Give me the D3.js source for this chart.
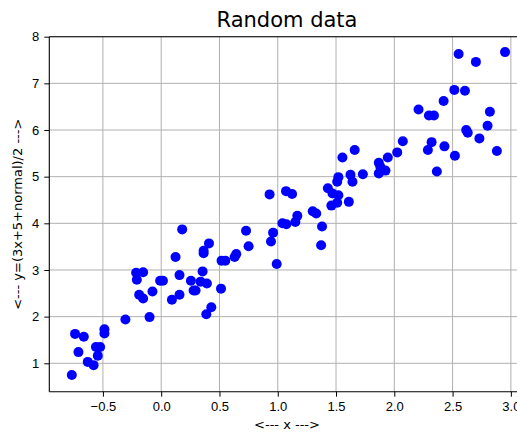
<!DOCTYPE html>
<html>
<head>
<meta charset="utf-8">
<script src="https://cdn.jsdelivr.net/npm/d3@7"></script>
<style>
  body { margin: 0; background: #fff; }
  svg { display: block; font-family: "DejaVu Sans", sans-serif; }
  .tick text { font-size: 13px; fill: #000; }
  .grid line { stroke: #b0b0b0; stroke-width: 1; }
</style>
</head>
<body>
<div id="chart"></div>
<script>
const WIDTH = 517;
const HEIGHT = 432;

// scatter values
const xValues = [
  -0.767, -0.739, -0.664, -0.71, -0.63, -0.58, -0.56, -0.524, -0.544, -0.487,
  -0.487, -0.307, -0.215, -0.155, -0.209, -0.189, -0.155, -0.075, -0.10, -0.009,
  0.015, 0.092, 0.157, 0.157, 0.123, 0.18, 0.255, 0.278, 0.295, 0.355,
  0.338, 0.392, 0.364, 0.364, 0.41, 0.387, 0.43, 0.513, 0.518, 0.55,
  0.63, 0.644, 0.728, 0.75, 0.942, 0.96, 0.991, 1.04, 1.074, 1.151,
  1.168, 1.30, 1.33, 1.38, 1.372, 1.46, 1.51, 1.61, 0.93, 1.071,
  1.123, 1.43, 1.47, 1.52, 1.51, 1.52, 1.555, 1.66, 1.624, 1.641,
  1.73, 1.867, 1.88, 1.924, 1.867, 1.944, 2.025, 2.073, 2.208, 2.297,
  2.34, 2.423, 2.32, 2.288, 2.365, 2.43, 2.52, 2.515, 2.606, 2.552,
  2.70, 2.95, 2.617, 2.63, 2.73, 2.80, 2.82, 2.88
];
const yValues = [
  0.75, 1.63, 1.57, 1.24, 1.03, 0.96, 1.35, 1.35, 1.16, 1.73,
  1.64, 1.94, 2.94, 2.95, 2.79, 2.47, 2.39, 2.54, 1.99, 2.77,
  2.77, 2.36, 2.47, 2.89, 3.28, 3.87, 2.77, 2.56, 2.56, 2.97,
  2.75, 2.71, 3.41, 3.36, 3.57, 2.05, 2.2, 2.6, 3.2, 3.2,
  3.28, 3.34, 3.84, 3.51, 3.61, 3.80, 3.13, 4.0, 3.98, 4.03,
  4.16, 4.26, 4.21, 3.93, 3.53, 4.38, 4.44, 4.46, 4.62, 4.69,
  4.63, 4.75, 4.64, 4.99, 4.89, 4.60, 5.41, 5.57, 5.04, 4.89,
  5.05, 5.30, 5.21, 5.13, 5.07, 5.41, 5.52, 5.76, 6.44, 6.31,
  6.31, 6.62, 5.74, 5.57, 5.11, 5.65, 5.45, 6.86, 6.84, 7.63,
  7.46, 7.67, 6.0, 5.94, 5.82, 6.09, 6.39, 5.55
];

const xTicks = [-0.5, 0.0, 0.5, 1.0, 1.5, 2.0, 2.5, 3.0];
const yTicks = [1, 2, 3, 4, 5, 6, 7, 8];
const xDomain = [-0.96, 3.147];
const yDomain = [0.391, 8.0];

const plot = { left: 49.3, right: 528, top: 36.7, bottom: 391.7 };

const points = xValues.map((x, i) => ({ x, y: yValues[i] }));

const svg = d3.select("#chart").append("svg")
  .attr("width", WIDTH)
  .attr("height", HEIGHT);

const x = d3.scaleLinear().domain(xDomain).range([plot.left, plot.right]);
const y = d3.scaleLinear().domain(yDomain).range([plot.bottom, plot.top]);

// grid
svg.append("g")
  .attr("class", "grid")
  .selectAll("line.v")
  .data(xTicks)
  .join("line")
  .attr("x1", d => x(d)).attr("x2", d => x(d))
  .attr("y1", plot.top).attr("y2", plot.bottom);

svg.append("g")
  .attr("class", "grid")
  .selectAll("line.h")
  .data(yTicks)
  .join("line")
  .attr("x1", plot.left).attr("x2", plot.right)
  .attr("y1", d => y(d)).attr("y2", d => y(d));

// points
svg.append("g")
  .selectAll("circle")
  .data(points)
  .join("circle")
  .attr("cx", d => x(d.x))
  .attr("cy", d => y(d.y))
  .attr("r", 5)
  .attr("fill", "#0000ff");

// axes
const fmtX = d => d3.format(".1f")(d).replace("-", "\u2212");

const xAxis = svg.append("g")
  .attr("transform", `translate(0,${plot.bottom})`)
  .call(d3.axisBottom(x).tickValues(xTicks).tickFormat(fmtX).tickSize(5).tickPadding(5));

const yAxis = svg.append("g")
  .attr("transform", `translate(${plot.left},0)`)
  .call(d3.axisLeft(y).tickValues(yTicks).tickFormat(d3.format("d")).tickSize(5).tickPadding(5));

[xAxis, yAxis].forEach(g => {
  g.select(".domain").remove();
  g.selectAll(".tick line").attr("stroke", "#000").attr("stroke-width", 1);
});

// spines
svg.append("line")
  .attr("x1", plot.left).attr("x2", plot.right)
  .attr("y1", plot.bottom).attr("y2", plot.bottom)
  .attr("stroke", "#000").attr("stroke-width", 1.1);
svg.append("line")
  .attr("x1", plot.left).attr("x2", plot.right)
  .attr("y1", plot.top).attr("y2", plot.top)
  .attr("stroke", "#000").attr("stroke-width", 1.1);
svg.append("line")
  .attr("x1", plot.left).attr("x2", plot.left)
  .attr("y1", plot.top).attr("y2", plot.bottom)
  .attr("stroke", "#000").attr("stroke-width", 1.1);

// title & labels
svg.append("text")
  .attr("x", 287)
  .attr("y", 27)
  .attr("text-anchor", "middle")
  .style("font-size", "21px")
  .text("Random data");

svg.append("text")
  .attr("x", 287)
  .attr("y", 429)
  .attr("text-anchor", "middle")
  .style("font-size", "13px")
  .text("<--- x --->");

svg.append("text")
  .attr("transform", `translate(22,${(plot.top + plot.bottom) / 2}) rotate(-90)`)
  .attr("text-anchor", "middle")
  .style("font-size", "13px")
  .text("<--- y=(3x+5+normal)/2 --->");
</script>
</body>
</html>
